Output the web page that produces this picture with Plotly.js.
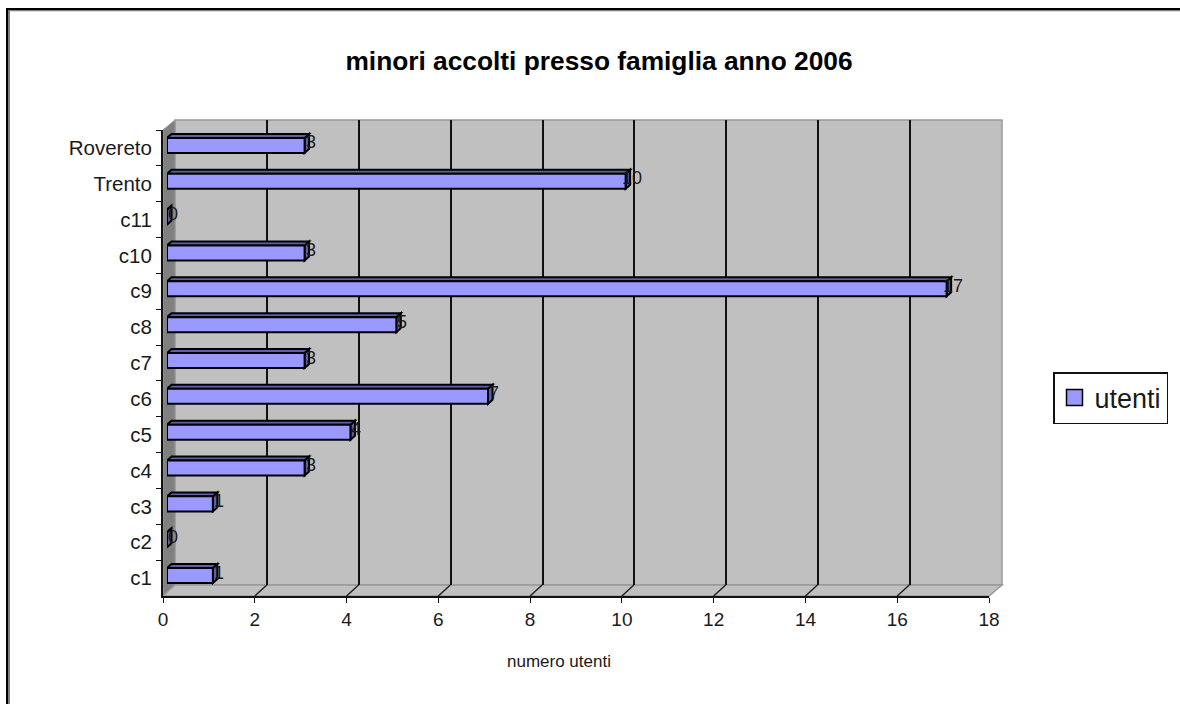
<!DOCTYPE html>
<html><head><meta charset="utf-8">
<script src="https://cdn.plot.ly/plotly-3.0.1.min.js"></script>
<style>html,body{margin:0;padding:0;background:#fff}</style></head>
<body><div id="chart" style="width:1180px;height:704px"></div>
<script>
var categories = ['c1','c2','c3','c4','c5','c6','c7','c8','c9','c10','c11','Trento','Rovereto'];
var utenti = [1,0,1,3,4,7,3,5,17,3,0,10,3];
var xTicks = [0,2,4,6,8,10,12,14,16,18];

var W = 1180, H = 704;
function fx(p){return p/W;} function fy(p){return 1-p/H;}
function dx(a,b){return [fx(a),fx(b)];} function dy(top,bot){return [fy(bot),fy(top)];}
var FACE='#9999ff', DEPTH='#5f5fa8', WALL='#c0c0c0', SIDE='#808080';
var font='"Liberation Sans", Arial, sans-serif';
var ink='#1a1a1a';
function poly(pts){return 'M'+pts.map(function(p){return fx(p[0])+','+fy(p[1]);}).join(' L')+' Z';}
function frame(x0,y0,x1,y1,c,w){return {type:'line',xref:'paper',yref:'paper',layer:'above',x0:fx(x0),y0:fy(y0),x1:fx(x1),y1:fy(y1),line:{color:c,width:w}};}

var shapes = [
 {type:'path',xref:'paper',yref:'paper',layer:'below',path:poly([[175,120],[1002,120],[1002,585],[175,585]]),fillcolor:WALL,line:{color:'#999999',width:1.5}},
 {type:'path',xref:'paper',yref:'paper',layer:'below',path:poly([[163,130],[175,120],[175,585],[163,596]]),fillcolor:SIDE,line:{color:'#999999',width:1}},
 {type:'path',xref:'paper',yref:'paper',layer:'below',path:poly([[163,596],[175,585],[1002,585],[989,596]]),fillcolor:WALL,line:{color:'#999999',width:1.5}},
 frame(9,9,9,704,'#808080',2), frame(9,10.5,1180,10.5,'#808080',1.5),
 frame(7,8,7,704,'#000',2), frame(6,9,1180,9,'#000',2)
];
// small floor strokes joining the front ticks to the gridlines on the wall
xTicks.slice(1,-1).forEach(function(t){
  shapes.push({type:'path',xref:'x3',yref:'y3',xsizemode:'pixel',ysizemode:'pixel',xanchor:t,yanchor:-0.5,layer:'above',
    path:'M0,0 L12,11',line:{color:'#222',width:1.5}});
});
// depth faces of each bar, anchored to its value through the bar axes
var barPx = 7.5; // half thickness of the front face
var pxPerUnit = (992.5-167)/18;
utenti.forEach(function(v,i){
  var s={type:'path',xref:'x2',yref:'y2',xsizemode:'pixel',ysizemode:'pixel',xanchor:v,yanchor:i,layer:'below',fillcolor:DEPTH,line:{color:'#000',width:2}};
  s.path='M0,'+barPx+' L4.5,'+(barPx+4)+' L4.5,'+(-barPx+4)+' L0,'+(-barPx)+' Z';
  shapes.push(s);
  var w=v*pxPerUnit;
  shapes.push({type:'path',xref:'x2',yref:'y2',xsizemode:'pixel',ysizemode:'pixel',xanchor:0,yanchor:i,layer:'below',fillcolor:DEPTH,line:{color:'#000',width:2},
    path:'M0,'+barPx+' L4.5,'+(barPx+4)+' L'+(w+4.5)+','+(barPx+4)+' L'+w+','+barPx+' Z'});
});
var annotations = utenti.map(function(v,i){
  return {xref:'x2',yref:'y2',x:v,y:i,text:String(v),showarrow:false,xanchor:'center',yanchor:'middle',xshift:6,yshift:3,font:{family:font,size:18,color:ink}};
});
annotations.push({xref:'paper',yref:'paper',x:fx(559),y:fy(661),text:'numero utenti',showarrow:false,xanchor:'center',yanchor:'middle',font:{family:font,size:17,color:ink}});

var traces=[
 {type:'scatter',mode:'markers',name:'utenti',x:[null],y:[null],xaxis:'x',yaxis:'y',
  marker:{symbol:'square',size:16,color:FACE,line:{color:'#000',width:1.5}},showlegend:true,hoverinfo:'skip'},
 {type:'bar',orientation:'h',name:'utenti',x:utenti,y:categories,xaxis:'x2',yaxis:'y2',
  marker:{color:FACE,line:{color:'#000',width:2}},width:0.42,cliponaxis:false,showlegend:false},
 {type:'scatter',mode:'markers',x:utenti,y:categories,xaxis:'x3',yaxis:'y3',marker:{opacity:0,size:1},showlegend:false,hoverinfo:'skip'}
];

var layout={
 width:W,height:H,margin:{l:0,r:0,t:0,b:0},paper_bgcolor:'#fff',plot_bgcolor:'rgba(0,0,0,0)',
 shapes:shapes,annotations:annotations,bargap:0.58,
 title:{text:'<b>minori accolti presso famiglia anno 2006</b>',font:{family:font,size:26.3,color:'#000'},x:599/W,xanchor:'center',y:fy(61),yanchor:'middle'},
 // back wall with gridlines
 xaxis:{domain:dx(175,1002),range:[0,18],tickvals:xTicks.slice(1,-1),showticklabels:false,ticks:'',showgrid:true,gridcolor:'#111',gridwidth:2,zeroline:false,showline:false},
 yaxis:{domain:dy(120,585),range:[0,1],showticklabels:false,showgrid:false,zeroline:false,ticks:''},
 // bars, set slightly into the depth of the plot
 xaxis2:{domain:dx(167,992.5),anchor:'y2',range:[0,18],visible:false},
 yaxis2:{domain:dy(127.5,593.5),anchor:'x2',type:'category',categoryorder:'array',categoryarray:categories,range:[-0.5,12.5],visible:false},
 // front axes carrying ticks and labels
 xaxis3:{domain:dx(163,989),anchor:'y3',range:[0,18],tickvals:xTicks,ticks:'outside',ticklen:5,tickcolor:'#111',showline:true,linecolor:'#111',linewidth:2,showgrid:false,zeroline:false,
   tickfont:{family:font,size:19,color:ink}},
 yaxis3:{domain:dy(130,596),anchor:'x3',type:'category',categoryorder:'array',categoryarray:categories,range:[-0.5,12.5],tickson:'boundaries',ticks:'outside',ticklen:5,tickcolor:'#111',showline:true,linecolor:'#111',linewidth:2,showgrid:false,zeroline:false,
   ticklabelstandoff:5,tickfont:{family:font,size:20.5,color:ink}},
 showlegend:true,
 legend:{x:fx(1053),xanchor:'left',y:fy(372),yanchor:'top',bordercolor:'#111',borderwidth:1.5,bgcolor:'#fff',font:{family:font,size:27,color:ink},itemwidth:30}
};
Plotly.newPlot('chart',traces,layout,{displayModeBar:false,staticPlot:true});
</script></body></html>
